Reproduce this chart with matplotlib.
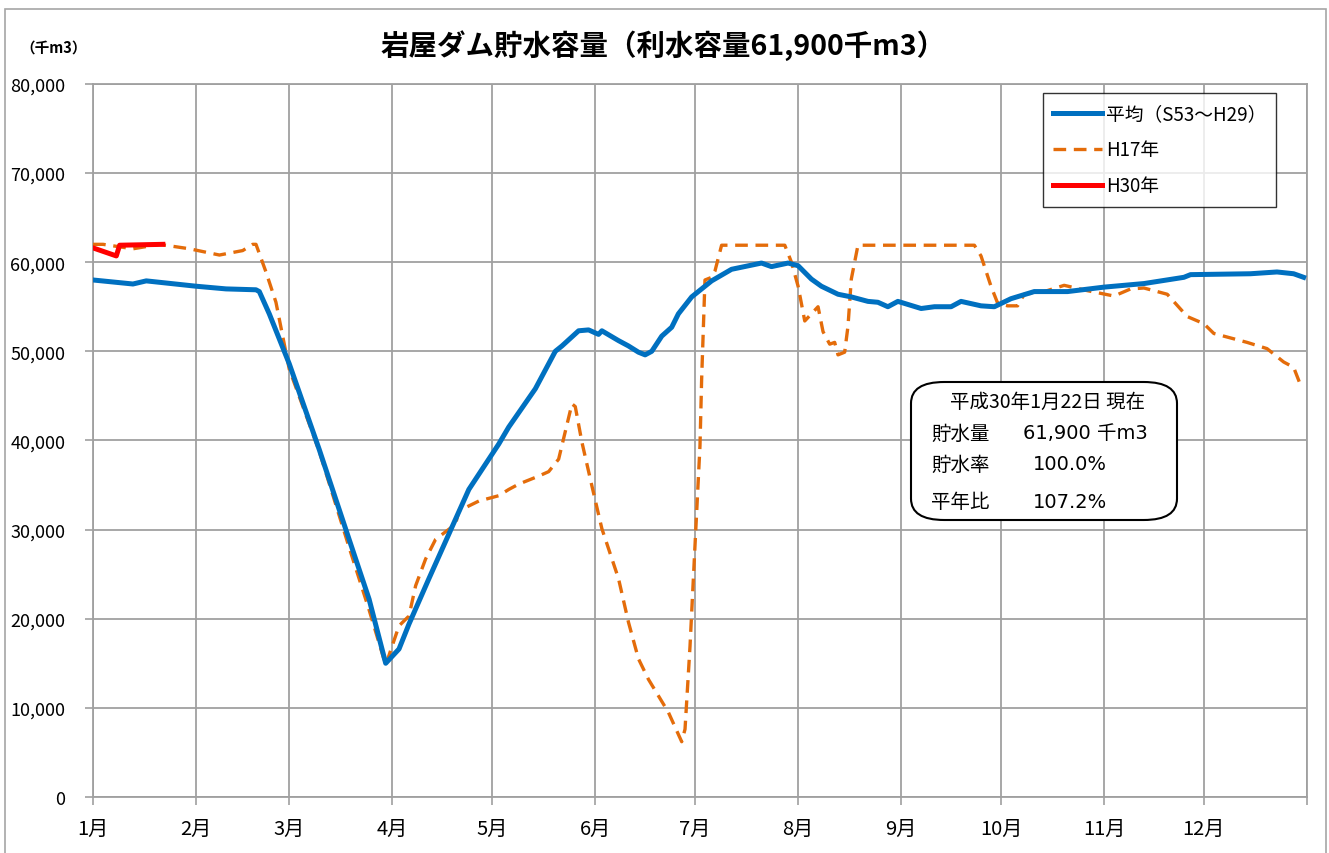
import matplotlib
matplotlib.use("Agg")
import matplotlib.pyplot as plt
from matplotlib.patches import FancyBboxPatch, Rectangle

plt.rcParams['font.family'] = ['Noto Sans CJK JP', 'DejaVu Sans']

# 月の区切り (1月1日からの日数)
month_days = [0, 31, 59, 90, 120, 151, 181, 212, 243, 273, 304, 334]
month_labels = ["1月", "2月", "3月", "4月", "5月", "6月", "7月", "8月", "9月", "10月", "11月", "12月"]

# 平均 (S53～H29)
avg_day = [0, 12, 16, 31, 40, 49, 50, 53, 59, 68, 77, 83, 88, 92, 95, 101, 107, 113, 119, 122,
           125, 133, 139, 141, 146, 149, 152, 153, 158, 161, 164, 166, 168, 171, 174, 176, 180,
           186, 192, 201, 204, 209, 212, 216, 219, 224, 228, 233, 236, 239, 242, 249, 253, 258,
           261, 267, 271, 276, 283, 293, 304, 316, 328, 330, 348, 356, 361, 364]
avg_val = [58000, 57550, 57900, 57300, 57000, 56900, 56700, 54200, 48600, 39000, 28900, 22200,
           15000, 16600, 19400, 24500, 29500, 34500, 37900, 39600, 41500, 45800, 50000, 50600,
           52300, 52400, 51900, 52300, 51200, 50600, 49900, 49600, 50000, 51700, 52700, 54200,
           56100, 57900, 59200, 59900, 59500, 59900, 59600, 58100, 57300, 56400, 56100, 55600,
           55500, 55000, 55600, 54800, 55000, 55000, 55600, 55100, 55000, 55900, 56700, 56700,
           57200, 57600, 58300, 58600, 58700, 58900, 58700, 58300]

# H17年
h17_day = [0, 3, 12, 20, 29, 38, 45, 48, 49, 52, 55, 59, 68, 77, 83, 88, 92, 95, 97, 100, 103,
           109, 110, 116, 122, 125, 128, 134, 137, 140, 142, 144, 145, 147, 150, 153, 158, 161,
           164, 167, 173, 177, 178, 179.5, 181, 182.5, 183, 184, 186, 187, 189, 208, 210, 212,
           214, 218, 219.5, 221.5, 223, 224, 226, 227, 228, 230, 265, 267, 270, 272, 275, 278,
           280, 286, 292, 299, 307, 312, 316, 323, 329, 334, 337, 347, 353, 358, 361, 363.5]
h17_val = [62000, 62000, 61500, 62000, 61500, 60800, 61300, 62000, 62000, 58900, 55500, 48000,
           38800, 28000, 21000, 14800, 19200, 20300, 23700, 26700, 28900, 30600, 32100, 33200,
           33800, 34500, 35100, 36000, 36500, 37900, 41000, 44100, 43800, 39800, 34900, 30100,
           24500, 19600, 15500, 13200, 9500, 6200, 7600, 16900, 28200, 39400, 46900, 58000,
           58300, 59000, 61900, 61900, 60000, 57300, 53400, 55000, 52200, 50800, 51000, 49600,
           49900, 52800, 58100, 61900, 61900, 60700, 57300, 55400, 55100, 55100, 56400, 56700,
           57400, 56800, 56200, 57000, 57100, 56400, 53900, 53100, 52000, 51000, 50300, 48800,
           48200, 45800]

# H30年
h30_day = [0, 7, 8, 21]
h30_val = [61600, 60700, 61900, 62000]

yticks = list(range(0, 80001, 10000))

fig = plt.figure(figsize=(13.29, 8.54), dpi=100)
ax = fig.add_axes([0.070, 0.0656, 0.9134, 0.835])

# 枠線 (外枠)
fig.patches.append(Rectangle((5 / 1329, -0.01), 1321 / 1329, 1 - 10 / 854 + 0.01,
                             transform=fig.transFigure, fill=False,
                             edgecolor='#a6a6a6', lw=1.2))

ax.plot(avg_day, avg_val, color='#0070C0', lw=3.6, label='平均（S53～H29）', zorder=4)
ax.plot(h17_day, h17_val, color='#E46C0A', lw=2.4, dashes=(3.8, 2.3), label='H17年', zorder=3)
ax.plot(h30_day, h30_val, color='#FF0000', lw=3.6, label='H30年', zorder=5)

ax.set_xlim(0, 365)
ax.set_ylim(0, 80000)
ax.set_xticks(month_days + [365])
ax.set_xticklabels(month_labels + [""], fontsize=14.5)
ax.set_yticks(yticks)
ax.set_yticklabels([f"{v:,}" for v in yticks], fontsize=13)
ax.tick_params(axis='both', direction='out', length=6, color='#a0a0a0', width=1.2)
ax.tick_params(axis='x', pad=9)
ax.tick_params(axis='y', pad=14)
ax.grid(True, color='#a0a0a0', lw=1.3)
for s in ax.spines.values():
    s.set_color('#a0a0a0')
    s.set_linewidth(1.3)

# タイトル
fig.text(663 / 1329, 1 - 46 / 854, '岩屋ダム貯水容量（利水容量61,900千m3）', ha='center', va='center',
         fontsize=20.5, fontweight='bold')
fig.text(20 / 1329, 1 - 48 / 854, '（千m3）', ha='left', va='center', fontsize=10.5, fontweight='bold')

# 凡例
leg = ax.legend(loc='upper left', bbox_to_anchor=((1043 - 93) / 1214, 1 - 9 / 713),
                fontsize=13.5, frameon=True, fancybox=False, handlelength=2.6,
                borderpad=0.55, labelspacing=0.8, handletextpad=0.2, borderaxespad=0)
leg.get_frame().set_edgecolor('black')
leg.get_frame().set_linewidth(1.0)

# 現在の状況
box = FancyBboxPatch((911 / 1329, 1 - 521 / 854), 266 / 1329, 138 / 854,
                     boxstyle='round,pad=0,rounding_size=0.025', transform=fig.transFigure,
                     facecolor='white', edgecolor='black', lw=1.5, zorder=10)
fig.patches.append(box)
fig.text(1048 / 1329, 1 - 402 / 854, '平成30年1月22日 現在', ha='center', va='center', fontsize=14, zorder=11)
rows = [('貯水量', '61,900 千m3', 434, 1023), ('貯水率', '100.0%', 465, 1033), ('平年比', '107.2%', 503, 1033)]
for name, value, ypix, xv in rows:
    fig.text(931 / 1329, 1 - ypix / 854, name, ha='left', va='center', fontsize=14, zorder=11)
    fig.text(xv / 1329, 1 - ypix / 854, value, ha='left', va='center', fontsize=14, zorder=11,
             family=['DejaVu Sans', 'Noto Sans CJK JP'])

fig.savefig('out.png', dpi=100)
